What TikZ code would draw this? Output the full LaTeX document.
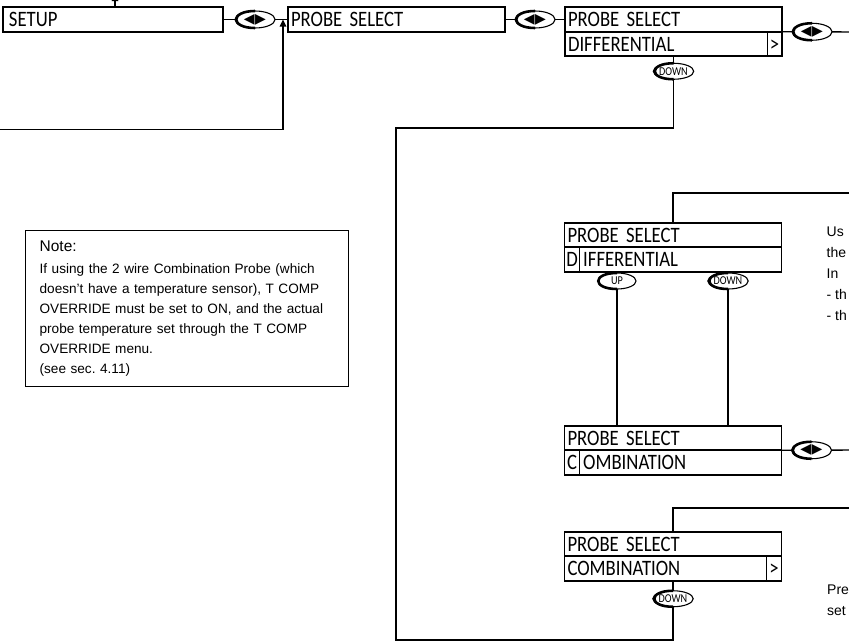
\documentclass[tikz,border=0pt]{standalone}
\usepackage{fontspec}
\setmainfont{Liberation Sans}
\newfontfamily\lcdfont[FakeStretch=0.85]{Carlito}
\newfontfamily\symfont{DejaVu Sans}
\usetikzlibrary{shapes.geometric, arrows.meta, positioning, calc}
\frenchspacing

\begin{document}
\begin{tikzpicture}[
  x=1pt, y=-1pt, line width=1.4pt,
  menubox/.style={rectangle, draw, line width=1.6pt, outer sep=0pt, inner xsep=3pt, inner ysep=0pt, text width=211pt, minimum height=24.5pt, text height=14pt, text depth=0pt, align=left, font=\lcdfont\fontsize{22}{22}\selectfont},
  cursor/.style={rectangle, draw, line width=1pt, outer sep=0pt, inner sep=0pt, minimum width=15pt, minimum height=24.5pt, text height=14pt, text depth=0pt, font=\lcdfont\fontsize{22}{22}\selectfont},
  lcdtext/.style={inner xsep=3pt, inner ysep=0pt, text height=14pt, text depth=0pt, font=\lcdfont\fontsize{22}{22}\selectfont},
  navbtn/.style={ellipse, draw, line width=1.1pt, fill=white, inner sep=0pt, outer sep=0pt, minimum width=40pt, minimum height=17pt, font=\symfont\fontsize{14}{14}\selectfont},
  keybtn/.style={navbtn, minimum width=38pt, minimum height=16pt, font=\lcdfont\fontsize{12}{12}\selectfont},
  note/.style={rectangle, draw, line width=1.3pt, inner xsep=14pt, inner ysep=8pt, text width=295pt, minimum height=156pt, align=left, font=\fontsize{13.6}{20}\selectfont},
  side/.style={inner sep=0pt, align=left, font=\fontsize{14}{21}\selectfont},
  arr/.style={-{Triangle[length=7pt, width=6.5pt]}}
]
  \useasboundingbox (0,0) rectangle (849,643);
  \clip (0,0) rectangle (849,643);

  \node[menubox, text width=208pt, inner xsep=6pt] (setup) at (113,19.5) {SETUP};
  \node[navbtn] (nav1) at (255,19.5) {◀\hspace{0.5pt}▶};
  \node[menubox] (probe) at (396.5,19.5) {PROBE SELECT};
  \node[navbtn] (nav2) at (535,19.5) {◀\hspace{0.5pt}▶};

  \node[menubox] (d1top) at (673.5,19.5) {PROBE SELECT};
  \node[menubox, below=0pt of d1top] (d1bot) {DIFFERENTIAL};
  \node[cursor, anchor=east] (d1more) at (d1bot.east) {>};
  \node[navbtn, right=10pt of d1top.south east] (nav3) {◀\hspace{0.5pt}▶};
  \node[keybtn, below=7pt of d1bot] (dn1) {DOWN};

  \node[menubox] (d2top) at (673,235) {PROBE SELECT};
  \node[menubox, below=0pt of d2top] (d2bot) {};
  \node[cursor, anchor=west] (d2cur) at (d2bot.west) {D};
  \node[lcdtext, right=0pt of d2cur] (d2rest) {IFFERENTIAL};
  \node[keybtn] (up1) at (617,281) {UP};
  \node[keybtn] (dn2) at (728,281) {DOWN};

  \node[menubox] (c2top) at (673,438) {PROBE SELECT};
  \node[menubox, below=0pt of c2top] (c2bot) {};
  \node[cursor, anchor=west] (c2cur) at (c2bot.west) {C};
  \node[lcdtext, right=0pt of c2cur] (c2rest) {OMBINATION};
  \node[navbtn, right=10pt of c2top.south east] (nav4) {◀\hspace{0.5pt}▶};

  \node[menubox] (c3top) at (673,544) {PROBE SELECT};
  \node[menubox, below=0pt of c3top] (c3bot) {COMBINATION};
  \node[cursor, anchor=east] (c3more) at (c3bot.east) {>};
  \node[keybtn, below=10pt of c3bot] (dn3) {DOWN};

  \node[note, anchor=north west] (note) at (25,230) {{\fontsize{15.5}{20}\selectfont Note:}\\[2pt]
    If using the 2 wire Combination Probe (which\\
    doesn't have a temperature sensor), T COMP\\
    OVERRIDE must be set to ON, and the actual\\
    probe temperature set through the T COMP\\
    OVERRIDE menu.\\
    (see sec. 4.11)};

  \node[side, anchor=north west] (hint1) at (826,226) {Us\\the\\In\\- th\\- th};
  \node[side, anchor=north west] (hint2) at (826.5,584) {Pre\\set};

  \coordinate (topin) at (115,-6);
  \coordinate (back) at (0,129.5);
  \coordinate (j1) at (283,19.5);
  \coordinate (out1) at (849,32);
  \coordinate (c1) at (396,128);
  \coordinate (c2) at (396,640);
  \coordinate (in2) at (849,193);
  \coordinate (out2) at (849,450);
  \coordinate (in3) at (849,508);

  \draw[arr] (setup.north -| topin) -- (topin);
  \draw (setup) -- (nav1) -- (probe);
  \draw[arr] (back) -| (j1);
  \draw (probe) -- (nav2) -- (d1top);
  \draw (d1top.south east) -- (nav3) -- (out1);
  \draw (d1bot) -- (dn1);
  \draw (dn1) |- (c1) -- (c2) -| (dn3);
  \draw (in2) -| (d2top);
  \draw (d2bot.south -| up1) -- (up1);
  \draw (d2bot.south -| dn2) -- (dn2);
  \draw (up1) -- (c2top.north -| up1);
  \draw (dn2) -- (c2top.north -| dn2);
  \draw (c2top.south east) -- (nav4) -- (out2);
  \draw (in3) -| (c3top);
  \draw (c3bot) -- (dn3);

  \foreach \b in {nav1,nav2,nav3,nav4,dn1,up1,dn2,dn3}
    \draw[line width=2.6pt] (\b.north) .. controls ([xshift=-25pt]\b.north) and ([xshift=-25pt]\b.south) .. (\b.south);

\end{tikzpicture}
\end{document}
